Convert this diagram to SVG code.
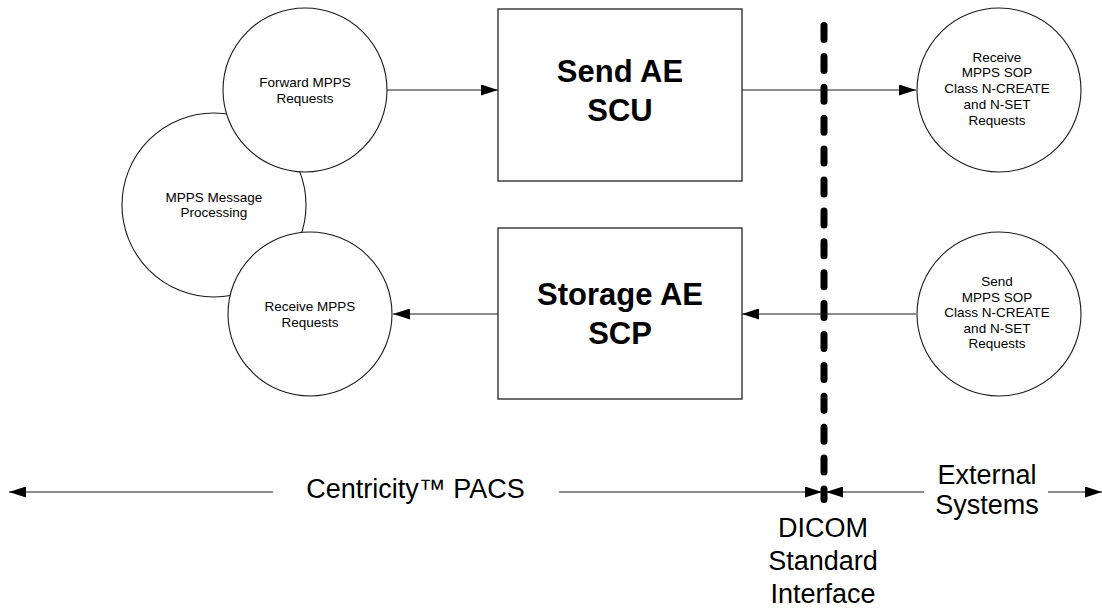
<svg xmlns="http://www.w3.org/2000/svg" width="1102" height="608" viewBox="0 0 1102 608">
<style>
.bg{fill:#ffffff}
.c{fill:#ffffff;stroke:#1a1a1a;stroke-width:1.1}
.box{fill:#ffffff;stroke:#333333;stroke-width:1.4}
.ln{fill:none;stroke:#1a1a1a;stroke-width:1.1}
.dash{fill:none;stroke:#000000;stroke-width:7;stroke-linecap:round;stroke-dasharray:14 16.9}
.t{font-family:"Liberation Sans",Arial,sans-serif;font-size:13.5px;fill:#000000;text-anchor:middle}
.ts{font-family:"Liberation Sans",Arial,sans-serif;font-size:13.5px;fill:#000000;text-anchor:middle}
.tb{font-family:"Liberation Sans",Arial,sans-serif;font-size:31px;font-weight:bold;fill:#000000;text-anchor:middle}
.tl{font-family:"Liberation Sans",Arial,sans-serif;font-size:27px;fill:#000000;text-anchor:middle}
</style>
<defs>
<marker id="ah" markerUnits="userSpaceOnUse" markerWidth="17" markerHeight="11" refX="17" refY="5.5" orient="auto">
<path d="M0,0 L17,5.5 L0,11 z" fill="#000000"/>
</marker>
</defs>
<rect class="bg" x="0" y="0" width="1102" height="608"/>

<g id="node-processing">
<circle class="c" cx="214" cy="205" r="92"/>
<text class="t" x="214" y="201.5">MPPS Message</text>
<text class="t" x="214" y="217">Processing</text>
</g>

<g id="node-forward">
<circle class="c" cx="305" cy="90" r="82"/>
<text class="t" x="305" y="87">Forward MPPS</text>
<text class="t" x="305" y="102.5">Requests</text>
</g>

<g id="node-receive-mpps">
<circle class="c" cx="310" cy="314" r="82"/>
<text class="t" x="310" y="311">Receive MPPS</text>
<text class="t" x="310" y="326.5">Requests</text>
</g>

<g id="node-send-ae">
<rect class="box" x="498" y="9" width="244" height="172"/>
<text class="tb" x="620" y="82">Send AE</text>
<text class="tb" x="620" y="121">SCU</text>
</g>

<g id="node-storage-ae">
<rect class="box" x="498" y="228" width="244" height="171"/>
<text class="tb" x="620" y="305">Storage AE</text>
<text class="tb" x="620" y="344">SCP</text>
</g>

<g id="node-ext-receive">
<circle class="c" cx="999" cy="90" r="82"/>
<text class="ts" x="997" y="61.7">Receive</text>
<text class="ts" x="997" y="77.3">MPPS SOP</text>
<text class="ts" x="997" y="93.3">Class N-CREATE</text>
<text class="ts" x="997" y="109.3">and N-SET</text>
<text class="ts" x="997" y="124.7">Requests</text>
</g>

<g id="node-ext-send">
<circle class="c" cx="999" cy="314" r="82"/>
<text class="ts" x="997" y="286">Send</text>
<text class="ts" x="997" y="301.5">MPPS SOP</text>
<text class="ts" x="997" y="317">Class N-CREATE</text>
<text class="ts" x="997" y="332.5">and N-SET</text>
<text class="ts" x="997" y="348">Requests</text>
</g>

<g id="boundary">
<line class="dash" x1="824" y1="25.5" x2="824" y2="499.5"/>
</g>

<g id="connectors">
<line class="ln" x1="387" y1="90" x2="498" y2="90" marker-end="url(#ah)"/>
<line class="ln" x1="742" y1="90" x2="916" y2="90" marker-end="url(#ah)"/>
<line class="ln" x1="916" y1="314" x2="742" y2="314" marker-end="url(#ah)"/>
<line class="ln" x1="498" y1="314" x2="393" y2="314" marker-end="url(#ah)"/>
<line class="ln" x1="273" y1="492" x2="9" y2="492" marker-end="url(#ah)"/>
<line class="ln" x1="559" y1="492" x2="822" y2="492" marker-end="url(#ah)"/>
<line class="ln" x1="924" y1="492" x2="826" y2="492" marker-end="url(#ah)"/>
<line class="ln" x1="1048" y1="492" x2="1102" y2="492" marker-end="url(#ah)"/>
</g>

<g id="labels">
<text class="tl" x="415.5" y="498">Centricity™ PACS</text>
<text class="tl" x="987" y="484">External</text>
<text class="tl" x="987" y="514">Systems</text>
<text class="tl" x="823" y="537">DICOM</text>
<text class="tl" x="823" y="570">Standard</text>
<text class="tl" x="823" y="603">Interface</text>
</g>
</svg>
